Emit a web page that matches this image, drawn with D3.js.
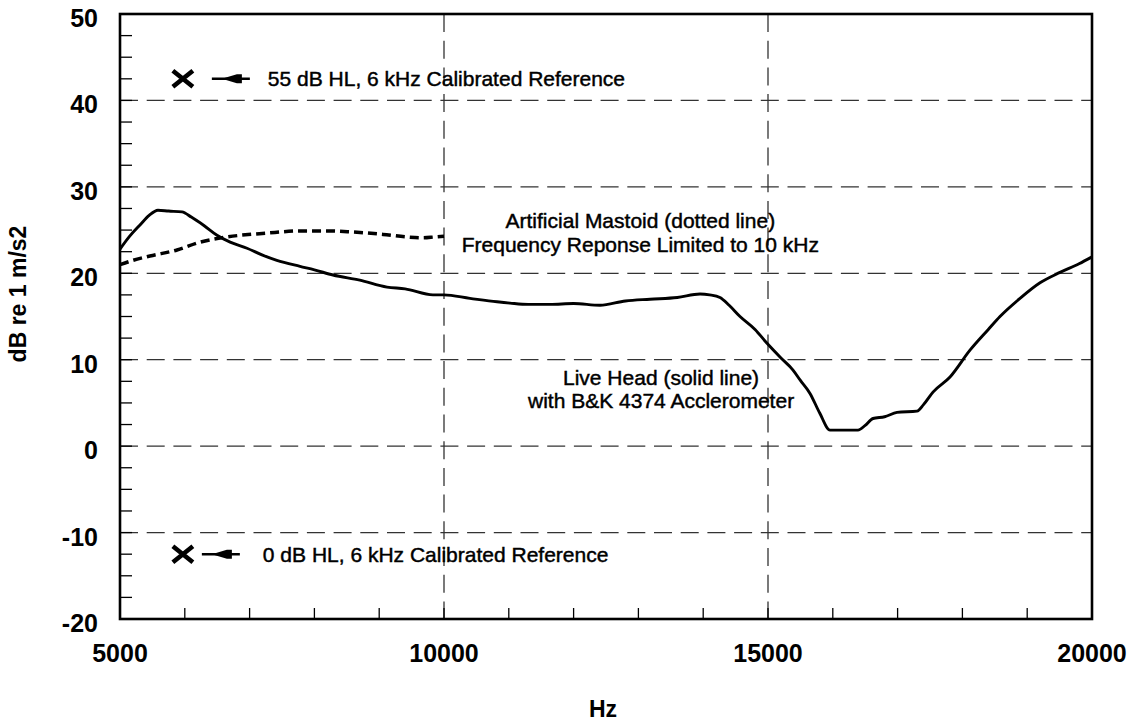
<!DOCTYPE html>
<html>
<head>
<meta charset="utf-8">
<script src="https://cdn.jsdelivr.net/npm/d3@7"></script>
<style>
  body { margin: 0; background: #fff; }
  svg { display: block; font-family: Arial, "Liberation Sans", sans-serif; }
</style>
</head>
<body>
<div id="chart"></div>
<script>
// Live head response (solid line), [Hz, dB re 1 m/s2]
const liveHead = [
  [5000, 22.8], [5150, 24.3], [5309, 25.6], [5450, 26.7], [5586, 27.3], [5750, 27.2],
  [5957, 27.1], [6100, 26.5], [6300, 25.5], [6497, 24.4], [6700, 23.6], [6960, 22.9],
  [7200, 22.1], [7420, 21.5], [7778, 20.8], [8000, 20.4], [8287, 19.8], [8700, 19.2],
  [9120, 18.4], [9400, 18.2], [9830, 17.5], [10000, 17.5], [10400, 17.1], [10818, 16.7],
  [11019, 16.55], [11300, 16.4], [11636, 16.4], [12000, 16.5], [12407, 16.3], [12800, 16.8],
  [13179, 17.0], [13600, 17.2], [13951, 17.6], [14100, 17.5], [14259, 17.2], [14400, 16.3],
  [14568, 15.0], [14800, 13.5], [14985, 11.9], [15200, 10.2], [15386, 8.8], [15500, 7.6],
  [15648, 6.1], [15800, 3.8], [15957, 1.85], [16389, 1.85], [16500, 2.4], [16620, 3.2],
  [16800, 3.4], [16991, 3.9], [17299, 4.05], [17400, 4.8], [17546, 6.25], [17809, 8.0],
  [18117, 11.1], [18400, 13.5], [18580, 15.0], [18889, 17.1], [19198, 18.9], [19506, 20.1],
  [19800, 21.1], [20000, 21.9]
];

// Artificial mastoid response (dotted line), limited to 10 kHz
const mastoid = [
  [5000, 21.0], [5200, 21.5], [5463, 22.0], [5880, 22.7], [6235, 23.6], [6651, 24.2],
  [7269, 24.65], [7778, 24.9], [8200, 24.9], [8549, 24.8], [9059, 24.5], [9430, 24.2],
  [9676, 24.1], [9850, 24.2], [10000, 24.3]
];

// calibrated reference markers [Hz, dB]
const refMarks = [[5970, 42.5], [5970, -12.5]];
const refLabels = ["55 dB HL, 6 kHz Calibrated Reference", "0 dB HL, 6 kHz Calibrated Reference"];

const xTicks = [5000, 10000, 15000, 20000];
const yTicks = [-20, -10, 0, 10, 20, 30, 40, 50];

const width = 1136, height = 724;
const margin = { top: 14, right: 44, bottom: 105, left: 120 };
const w = width - margin.left - margin.right;
const h = height - margin.top - margin.bottom;

const svg = d3.select('#chart').append('svg')
  .attr('width', width)
  .attr('height', height);

svg.append('rect').attr('width', width).attr('height', height).attr('fill', '#fff');

const g = svg.append('g').attr('transform', `translate(${margin.left},${margin.top})`);

const x = d3.scaleLinear().domain([5000, 20000]).range([0, w]);
const y = d3.scaleLinear().domain([-20, 50]).range([h, 0]);

// dashed grid
const gridColor = '#333';
g.selectAll('.hgrid')
  .data(yTicks.filter(d => d > -20 && d < 50))
  .enter().append('line')
  .attr('x1', 0).attr('x2', w)
  .attr('y1', d => y(d)).attr('y2', d => y(d))
  .attr('stroke', gridColor).attr('stroke-width', 1.3)
  .attr('stroke-dasharray', '18,8.7');

g.selectAll('.vgrid')
  .data(xTicks.filter(d => d > 5000 && d < 20000))
  .enter().append('line')
  .attr('x1', d => x(d)).attr('x2', d => x(d))
  .attr('y1', 0).attr('y2', h)
  .attr('stroke', gridColor).attr('stroke-width', 1.3)
  .attr('stroke-dasharray', '18,8.7');

// minor ticks
const yMinor = d3.range(-20, 50.01, 2.5);
g.selectAll('.ytick')
  .data(yMinor)
  .enter().append('line')
  .attr('x1', 0).attr('x2', 12)
  .attr('y1', d => y(d)).attr('y2', d => y(d))
  .attr('stroke', '#000').attr('stroke-width', 1.3);

const xMinor = d3.range(5000, 20001, 1000);
g.selectAll('.xtick')
  .data(xMinor)
  .enter().append('line')
  .attr('x1', d => x(d)).attr('x2', d => x(d))
  .attr('y1', h).attr('y2', h - 11)
  .attr('stroke', '#000').attr('stroke-width', 1.3);

// frame
g.append('rect')
  .attr('width', w).attr('height', h)
  .attr('fill', 'none').attr('stroke', '#000').attr('stroke-width', 2.6);

// tick labels
g.selectAll('.ylab')
  .data(yTicks)
  .enter().append('text')
  .attr('x', -22).attr('y', d => y(d) + 13)
  .attr('text-anchor', 'end')
  .attr('font-size', 25).attr('font-weight', 'bold')
  .text(d => d);

g.selectAll('.xlab')
  .data(xTicks)
  .enter().append('text')
  .attr('x', d => x(d)).attr('y', h + 43)
  .attr('text-anchor', 'middle')
  .attr('font-size', 25).attr('font-weight', 'bold')
  .text(d => d);

// axis titles
svg.append('text')
  .attr('transform', 'translate(26,294) rotate(-90)')
  .attr('text-anchor', 'middle')
  .attr('font-size', 23).attr('font-weight', 'bold')
  .text('dB re 1 m/s2');

svg.append('text')
  .attr('x', 603).attr('y', 717)
  .attr('text-anchor', 'middle')
  .attr('font-size', 23).attr('font-weight', 'bold')
  .text('Hz');

// curves
const line = d3.line()
  .x(d => x(d[0]))
  .y(d => y(d[1]))
  .curve(d3.curveMonotoneX);

g.append('path')
  .datum(mastoid)
  .attr('d', line)
  .attr('fill', 'none').attr('stroke', '#000')
  .attr('stroke-width', 3.5)
  .attr('stroke-dasharray', '9,5');

g.append('path')
  .datum(liveHead)
  .attr('d', line)
  .attr('fill', 'none').attr('stroke', '#000')
  .attr('stroke-width', 2.9)
  .attr('stroke-linejoin', 'round');

// reference markers with arrows
refMarks.forEach((m, i) => {
  const cx = x(m[0]), cy = y(m[1]);
  const s = 10;
  g.append('path')
    .attr('d', `M${cx - s},${cy - s * 0.8}L${cx + s},${cy + s * 0.8}M${cx - s},${cy + s * 0.8}L${cx + s},${cy - s * 0.8}`)
    .attr('stroke', '#000').attr('stroke-width', 4.6).attr('fill', 'none');

  const a0 = cx + (i === 0 ? 29 : 19);
  const a1 = cx + (i === 0 ? 67 : 57);
  g.append('line')
    .attr('x1', a0).attr('x2', a1)
    .attr('y1', cy).attr('y2', cy)
    .attr('stroke', '#000').attr('stroke-width', 2.6);
  const tip = a0 + 10;
  g.append('path')
    .attr('d', `M${tip},${cy}L${tip + 15},${cy - 4.5}L${tip + 20},${cy - 4.5}L${tip + 20},${cy + 4.5}L${tip + 15},${cy + 4.5}Z`)
    .attr('fill', '#000');

  g.append('text')
    .attr('x', cx + (i === 0 ? 85 : 80)).attr('y', cy + 7.5)
    .attr('font-size', 21)
    .attr('stroke', '#000').attr('stroke-width', 0.45)
    .text(refLabels[i]);
});

// curve notes
const notes = [
  { hz: 13030, db: 25.2, gap: 24, lines: ['Artificial Mastoid (dotted line)', 'Frequency Reponse Limited to 10 kHz'] },
  { hz: 13350, db: 7.1, gap: 23, lines: ['Live Head (solid line)', 'with B&K 4374 Acclerometer'] }
];
notes.forEach(n => {
  const t = g.append('text')
    .attr('x', x(n.hz)).attr('y', y(n.db))
    .attr('text-anchor', 'middle')
    .attr('font-size', 21)
    .attr('stroke', '#000').attr('stroke-width', 0.45);
  n.lines.forEach((s, i) => {
    t.append('tspan').attr('x', x(n.hz)).attr('dy', i === 0 ? 0 : n.gap).text(s);
  });
});
</script>
</body>
</html>
